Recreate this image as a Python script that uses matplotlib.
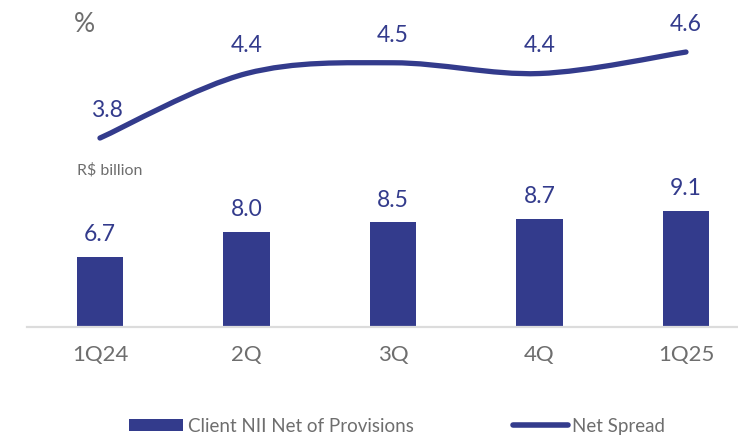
import numpy as np
import matplotlib
matplotlib.use("Agg")
import matplotlib.pyplot as plt
from matplotlib.path import Path
from matplotlib.patches import PathPatch
from matplotlib.lines import Line2D
from matplotlib.patches import Patch

quarters = ["1Q24", "2Q", "3Q", "4Q", "1Q25"]
client_nii = [6.7, 8.0, 8.5, 8.7, 9.1]
net_spread = [3.8, 4.4, 4.5, 4.4, 4.6]

navy = "#333b8c"
grey = "#6e6e6e"

plt.rcParams["font.family"] = ["Lato", "DejaVu Sans"]

fig = plt.figure(figsize=(7.38, 4.36), dpi=100)
ax = fig.add_axes([27 / 738, 1 - 327 / 436, 711 / 738, 327 / 436])
x = np.arange(len(quarters))

# bars for client NII (axis starts above zero, as in the deck)
ax.bar(x, client_nii, width=0.315, color=navy, zorder=2)
ax.set_xlim(-0.498, 4.355)
ax.set_ylim(3.05, 20.08)
for xi, v in zip(x, client_nii):
    ax.text(xi, v + 0.6, f"{v:.1f}", ha="center", va="bottom",
            fontsize=16.5, color=navy)

for s in ["top", "right", "left"]:
    ax.spines[s].set_visible(False)
ax.spines["bottom"].set_color("#dcdcdc")
ax.spines["bottom"].set_linewidth(1.6)
ax.set_yticks([])
ax.set_xticks(x)
ax.set_xticklabels(quarters, fontsize=16, color=grey)
ax.tick_params(axis="x", length=0, pad=13)

# net spread on its own scale, smoothed through the points
ax2 = ax.twinx()
ax2.set_ylim(2.042, 5.084)
ax2.set_yticks([])
for s in ax2.spines.values():
    s.set_visible(False)

pts = np.column_stack([x, net_spread]).astype(float)
ext = np.vstack([pts[0], pts, pts[-1]])
verts = [tuple(pts[0])]
codes = [Path.MOVETO]
for i in range(len(pts) - 1):
    p0, p1, p2, p3 = ext[i], ext[i + 1], ext[i + 2], ext[i + 3]
    c1 = p1 + (p2 - p0) / 6
    c2 = p2 - (p3 - p1) / 6
    verts += [tuple(c1), tuple(c2), tuple(p2)]
    codes += [Path.CURVE4] * 3
ax2.add_patch(PathPatch(Path(verts, codes), facecolor="none", edgecolor=navy,
                        lw=3.8, capstyle="round", zorder=3))
for xi, v in zip(x, net_spread):
    ax2.text(xi + (0.05 if xi == 0 else 0), v + 0.16, f"{v:.1f}",
             ha="center", va="bottom", fontsize=16.5, color=navy)

fig.text(84 / 738, 1 - 25 / 436, "%", fontsize=19, color=grey,
         ha="center", va="center")
fig.text(77 / 738, 1 - 170 / 436, "R$ billion", fontsize=11.5, color=grey,
         ha="left", va="center")

handles = [Patch(facecolor=navy, edgecolor="none"),
           Line2D([], [], color=navy, lw=4, solid_capstyle="round")]
fig.legend(handles, ["Client NII Net of Provisions", "Net Spread"],
           loc="center", bbox_to_anchor=(397 / 738, 1 - 426 / 436), ncol=2,
           frameon=False, fontsize=13.5, labelcolor=grey, handlelength=2.9,
           handleheight=0.6, handletextpad=0.25, columnspacing=5.3)

fig.savefig("out.png", dpi=100)
